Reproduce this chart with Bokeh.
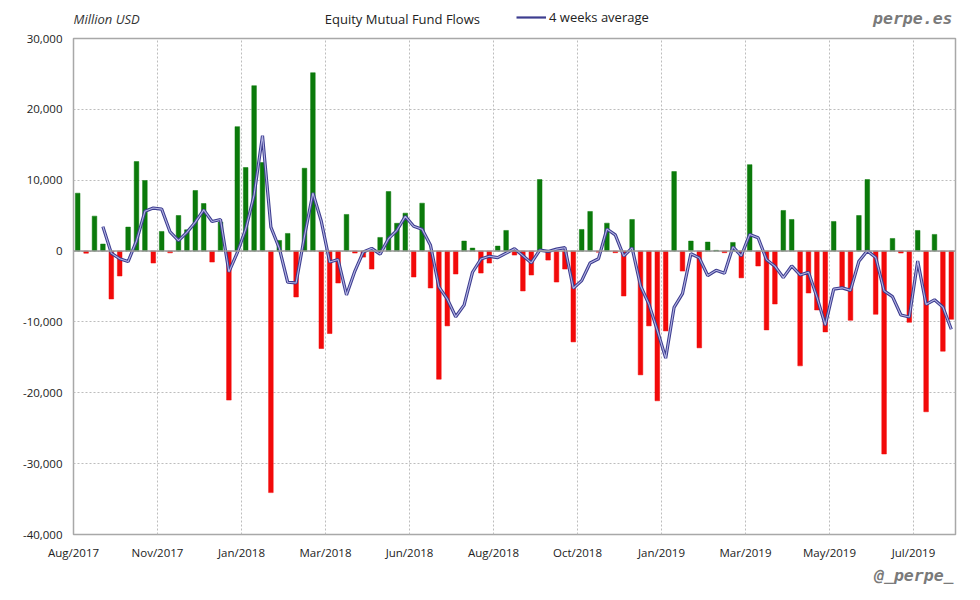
from bokeh.plotting import figure
from bokeh.layouts import column
from bokeh.models import (Range1d, FixedTicker, Span, Legend, LegendItem,
                          ColumnDataSource, NumeralTickFormatter)
from bokeh.core.properties import value
from bokeh.embed import file_html
from bokeh.resources import INLINE

# Weekly equity mutual fund flows, million USD (Aug 2017 - Jul 2019)
flows = [
    8170, -300, 4930, 990, -6760, -3520, 3380, 12630, 9960, -1690,
    2770, -250, 5020, 3000, 8550, 6710, -1550, 4090, -21030, 17560,
    11790, 23340, 12490, -34090, 1500, 2490, -6480, 11690, 25170, -13760,
    -11640, -4510, 5170, -280, -850, -2535, 1925, 8400, 3920, 5350,
    -3660, 6760, -5210, -18080, -10560, -3240, 1410, 420, -3100, -1690,
    700, 2910, -560, -5630, -3380, 10090, -1270, -4370, -2535, -12820,
    3050, 5590, -150, 3940, -230, -6340, 4460, -17470, -10560, -21130,
    -11270, 11220, -2820, 1410, -13660, 1270, 100, -230, 1220, -3780,
    12200, -2110, -11130, -7470, 5730, 4460, -16200, -5920, -8310, -11410,
    4180, -5210, -9770, 5020, 10090, -8920, -28640, 1780, -280, -10050,
    2910, -22680, 2350, -14130, -9630,
]

# 4 weeks average line (first 3 weeks have no value)
avg4 = [
    None, None, None,
    3450, -290, -1090, -1480, 1430, 5610, 6070, 5920, 2700, 1460,
    2640, 4080, 5820, 4180, 4450, -2950, -230, 3100, 7910, 16290,
    3380, 400, -4400, -4500, 2100, 8200, 4200, -1550, -1200, -6190,
    -2820, -120, 380, -430, 1740, 2930, 4900, 3500, 3090, 810,
    -5050, -6770, -9270, -7620, -2990, -1130, -740, -920, -300, 340,
    -650, -1670, 130, -50, 270, 480, -5250, -4170, -1680, -1080,
    3110, 2290, -700, 460, -4890, -7480, -11170, -15110, -7940, -6000,
    -370, -960, -3450, -2720, -3130, 590, -670, 2350, 1880, -1210,
    -2130, -3740, -2100, -3370, -2980, -6490, -10460, -5360, -5190, -5550,
    -1440, 30, -900, -5620, -6430, -9020, -9300, -1410, -7530, -6880,
    -7900, -11030,
]

tick_labels = ["Aug/2017", "Nov/2017", "Jan/2018", "Mar/2018", "Jun/2018",
               "Aug/2018", "Oct/2018", "Jan/2019", "Mar/2019", "May/2019", "Jul/2019"]
tick_weeks = [0, 10, 20, 30, 40, 50, 60, 70, 80, 90, 100]
y_ticks = [-40000, -30000, -20000, -10000, 0, 10000, 20000, 30000]

title_text = "Equity Mutual Fund Flows"
legend_text = "4 weeks average"
unit_text = "Million USD"
site_text = "perpe.es"
handle_text = "@_perpe_"

GREEN = "#0b7a0b"
RED = "#f20a0a"
NAVY = "#3d3d8f"
FONT = "Open Sans"
W = 964
FRAME_L, FRAME_R = 74, 955   # page pixels of the chart frame (header/footer share it)


def blank(height):
    f = figure(width=W, height=height, output_backend="svg", toolbar_location=None,
               x_range=Range1d(FRAME_L, FRAME_R), y_range=Range1d(height, 0),
               min_border=0, min_border_left=0, min_border_right=0,
               min_border_top=0, min_border_bottom=0)
    f.axis.visible = False
    f.grid.visible = False
    f.outline_line_color = None
    f.background_fill_color = "white"
    f.border_fill_color = "white"
    return f


# ---- header: unit, title, legend, site ----
header = blank(30)
header.text(x=[74], y=[18], text=[unit_text], text_font=value(FONT), text_font_style="italic",
            text_font_size="13px", text_color="#333333", text_baseline="middle")
header.text(x=[325], y=[18], text=[title_text], text_font=value(FONT),
            text_font_size="13px", text_color="#222222", text_baseline="middle")
header.text(x=[952], y=[18], text=[site_text], text_font=value("DejaVu Sans Mono"),
            text_font_style="bold italic", text_font_size="16.5px", text_color="#7a7a7a",
            text_baseline="middle", text_align="right")
legend_src = ColumnDataSource(dict(x=[float("nan")], y=[float("nan")]))
legend_line = header.line("x", "y", source=legend_src, line_color=NAVY, line_width=2.2)
legend = Legend(items=[LegendItem(label=legend_text, renderers=[legend_line])],
                location=(517 - FRAME_L, 4), orientation="horizontal", padding=0, margin=0,
                border_line_color=None, background_fill_alpha=0,
                label_text_font=FONT, label_text_font_size="13px", label_text_color="#222222",
                glyph_width=30, glyph_height=16, label_height=16, label_standoff=3)
header.add_layout(legend)

# ---- main chart ----
n = len(flows)
xs = [i + 0.5 for i in range(n)]
colors = [GREEN if v >= 0 else RED for v in flows]
bar_src = ColumnDataSource(dict(x=xs, top=flows, color=colors))
line_src = ColumnDataSource(dict(x=xs, y=[float("nan") if v is None else v for v in avg4]))

p = figure(width=W, height=532, output_backend="svg", toolbar_location=None,
           x_range=Range1d(0, n), y_range=Range1d(-40000, 30000),
           min_border_left=73, min_border_right=9, min_border_top=8, min_border_bottom=27)
p.background_fill_color = "white"
p.border_fill_color = "white"
p.outline_line_color = "#a8a8a8"
p.outline_line_width = 1.5

p.xgrid.ticker = FixedTicker(ticks=tick_weeks)
p.ygrid.ticker = FixedTicker(ticks=y_ticks)
for g in (p.xgrid, p.ygrid):
    g.grid_line_color = "#bdbdbd"
    g.grid_line_dash = "2 2"
    g.grid_line_width = 1

p.xaxis.ticker = FixedTicker(ticks=tick_weeks)
p.xaxis.major_label_overrides = {w: lab for w, lab in zip(tick_weeks, tick_labels)}
p.yaxis.ticker = FixedTicker(ticks=y_ticks)
p.yaxis.formatter = NumeralTickFormatter(format="0,0")
for ax in (p.xaxis, p.yaxis):
    ax.axis_line_color = None
    ax.major_tick_line_color = None
    ax.minor_tick_line_color = None
    ax.major_tick_out = 0
    ax.major_tick_in = 0
    ax.major_label_text_font = FONT
    ax.major_label_text_font_size = "11.5px"
    ax.major_label_text_color = "#222222"
p.yaxis.major_label_standoff = 11
p.xaxis.major_label_standoff = 10

p.vbar(x="x", top="top", bottom=0, width=0.55, source=bar_src,
       fill_color="color", line_color="color", line_width=0.5)

p.add_layout(Span(location=0, dimension="width", line_color="#9a9a9a", line_width=1.5))

p.line("x", "y", source=line_src, line_color=NAVY, line_width=3.2)
p.line("x", "y", source=line_src, line_color="#b4b4e4", line_width=1.1)

# ---- footer: handle ----
footer = blank(22)
footer.text(x=[953], y=[13], text=[handle_text], text_font=value("DejaVu Sans Mono"),
            text_font_style="bold italic", text_font_size="16.5px", text_color="#7a7a7a",
            text_baseline="middle", text_align="right")

layout = column(header, p, footer, spacing=0)
open("out.html", "w").write(file_html(layout, INLINE))
